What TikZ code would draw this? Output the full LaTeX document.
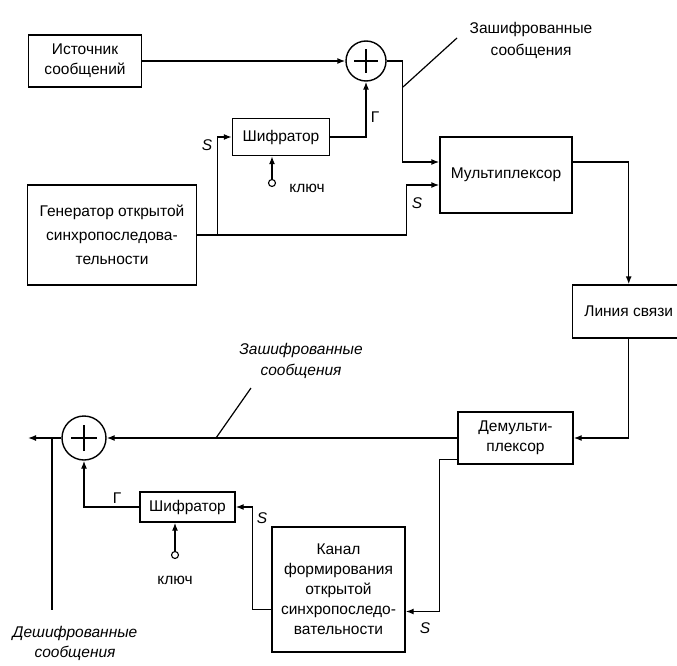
\documentclass[tikz,border=0pt]{standalone}
\usepackage{fontspec}
\setmainfont{Liberation Sans}
\usetikzlibrary{arrows.meta}

\begin{document}
\begin{tikzpicture}[x=1pt,y=-1pt,line width=1.4pt,
            blk/.style={draw,align=center,inner sep=1pt,font=\fontsize{15.5}{20}\selectfont},
            sum/.style={draw,circle,inner sep=0pt,minimum size=#1},
            arr/.style={-{Latex[length=8pt,width=6pt]}},
            lbl/.style={align=center,font=\fontsize{15.5}{22}\selectfont},
            ilbl/.style={align=center,font=\fontsize{15.5}{21}\selectfont\itshape},
            keyc/.style={draw,circle,inner sep=0pt,minimum size=7pt,line width=1.1pt}]
            \useasboundingbox (0,0) rectangle (677,666);

            %transmitter
            \node[blk,minimum width=113,minimum height=52] (src) at (85,61) {Источник\\сообщений};
            \node[sum=40] (sum1) at (366,61) {};
            \node[blk,minimum width=97,minimum height=37] (enc1) at (281,137) {Шифратор};
            \node[blk,minimum width=169,minimum height=100,font=\fontsize{15.5}{24}\selectfont] (gen) at (112,235)
                {Генератор открытой\\синхропоследова-\\тельности};
            \node[blk,minimum width=132,minimum height=76] (mux) at (506,175) {Мультиплексор};
            \node[keyc] (key1) at (272,183) {};

            %line
            \node[blk,minimum width=112,minimum height=53,anchor=west] (line) at (572,311.5) {Линия связи};

            %receiver
            \node[blk,minimum width=115,minimum height=52] (demux) at (515.5,438) {Демульти-\\плексор};
            \node[sum=44] (sum2) at (84,438) {};
            \node[blk,minimum width=95,minimum height=30] (enc2) at (187.5,507) {Шифратор};
            \node[blk,minimum width=133,minimum height=125] (chan) at (338.5,589.5)
                {Канал\\формирования\\открытой\\синхропоследо-\\вательности};
            \node[keyc] (key2) at (175,555) {};

            %plus signs
            \draw ([xshift=-12pt]sum1.center) -- ([xshift=12pt]sum1.center);
            \draw ([yshift=-12pt]sum1.center) -- ([yshift=12pt]sum1.center);
            \draw ([xshift=-13pt]sum2.center) -- ([xshift=13pt]sum2.center);
            \draw ([yshift=-13pt]sum2.center) -- ([yshift=13pt]sum2.center);

            \coordinate (out) at (28,438);
            \coordinate (tap) at (52,438);
            \coordinate (tapend) at (52,610);
            \coordinate (n1) at (403,87);
            \coordinate (n1end) at (457,38);
            \coordinate (n2) at (216,438);
            \coordinate (n2end) at (251,388);

            %connections
            \draw[arr] (src.east) -- (sum1.west);
            \draw[arr] (sum1.east) -- ++(16,0) |- ([yshift=13pt]mux.west);
            \draw[arr] (gen.east) -- ++(209.5,0) |- ([yshift=-10pt]mux.west);
            \draw[arr] (gen.east) ++(20.5,0) |- (enc1.west);
            \draw[arr] (enc1.east) -| (sum1.south);
            \draw[arr] (key1) -- (key1 |- enc1.south);
            \draw[arr] ([yshift=13pt]mux.east) -| (line.north);
            \draw[arr] (line.south) |- (demux.east);
            \draw[arr] (demux.west) -- (sum2.east);
            \draw[arr] (sum2.west) -- (out);
            \draw (tap) -- (tapend);
            \draw[arr] (enc2.west) -| (sum2.south);
            \draw[arr] (key2) -- (key2 |- enc2.south);
            \draw[arr] ([yshift=-20pt]chan.west) -- ++(-19,0) |- (enc2.east);
            \draw[arr] ([yshift=5pt]demux.south west) -- ++(-18,0) |- ([yshift=-22pt]chan.east);
            \draw[line width=1.2pt] (n1) -- (n1end);
            \draw[line width=1.2pt] (n2) -- (n2end);

            %labels
            \node[lbl] (msg1) at (531,40) {Зашифрованные\\сообщения};
            \node[ilbl] (msg2) at (301,361) {Зашифрованные\\сообщения};
            \node[ilbl,font=\fontsize{15.5}{20}\selectfont\itshape] (msg3) at (75,643) {Дешифрованные\\сообщения};
            \node[lbl] (k1) at (307,188) {ключ};
            \node[lbl] (k2) at (175,580) {ключ};
            \node[lbl] (g1) at (375,117) {Г};
            \node[lbl] (g2) at (117,498) {Г};
            \node[ilbl] (s1) at (207,145) {S};
            \node[ilbl] (s2) at (417,203) {S};
            \node[ilbl] (s3) at (262,518) {S};
            \node[ilbl] (s4) at (425,628) {S};
\end{tikzpicture}
\end{document}
